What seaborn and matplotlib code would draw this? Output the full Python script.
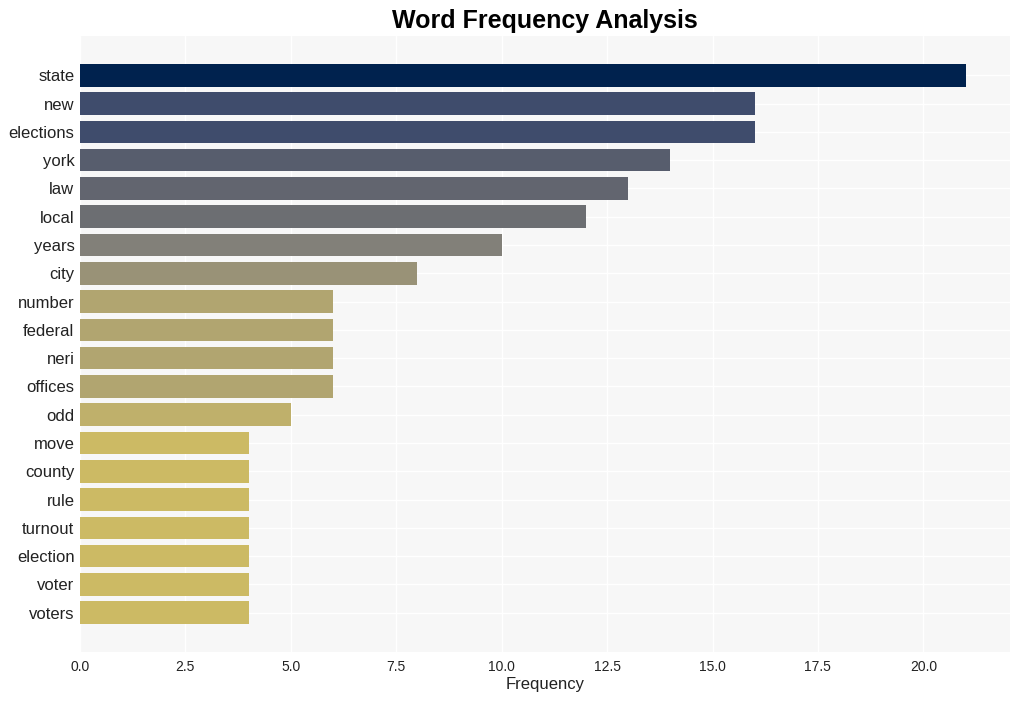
import matplotlib
matplotlib.use("Agg")
import matplotlib.pyplot as plt
import seaborn as sns
import pandas as pd

words = ["state", "new", "elections", "york", "law", "local", "years", "city",
         "number", "federal", "neri", "offices", "odd", "move", "county", "rule",
         "turnout", "election", "voter", "voters"]
freqs = [21, 16, 16, 14, 13, 12, 10, 8, 6, 6, 6, 6, 5, 4, 4, 4, 4, 4, 4, 4]

df = pd.DataFrame({"word": words, "freq": freqs})

sns.set_theme(style="whitegrid")
plt.rcParams["font.family"] = ["Liberation Sans", "DejaVu Sans"]

fig = plt.figure(figsize=(10.2, 7.01), dpi=100)
ax = fig.add_axes([0.0784, 0.0699, 0.9116, 0.8787])
ax.set_facecolor("#f7f7f7")

sns.barplot(data=df, x="freq", y="word", hue="freq", palette="cividis_r",
            hue_norm=(0, 21), legend=False, ax=ax, width=0.8, saturation=1,
            linewidth=0, edgecolor="none")

n = len(words)
ax.set_ylim(n - 1 + 0.4 + 0.99, -0.4 - 0.99)
ax.set_xlim(0, 22.05)
ax.grid(True, color="white", linewidth=1)
ax.yaxis.grid(True)
ax.set_axisbelow(True)
for s in ax.spines.values():
    s.set_visible(False)
ax.tick_params(axis="both", length=0)
ax.tick_params(axis="y", labelsize=12, pad=4, labelcolor="#222222")
ax.tick_params(axis="x", labelsize=10, pad=6, labelcolor="#222222")
ax.set_ylabel("")
ax.set_xlabel("Frequency", fontsize=12, color="#222222", labelpad=2)
ax.set_title("Word Frequency Analysis", fontsize=18, fontweight="bold",
             color="black", pad=6)

fig.savefig("out.png", dpi=100, facecolor="white")
